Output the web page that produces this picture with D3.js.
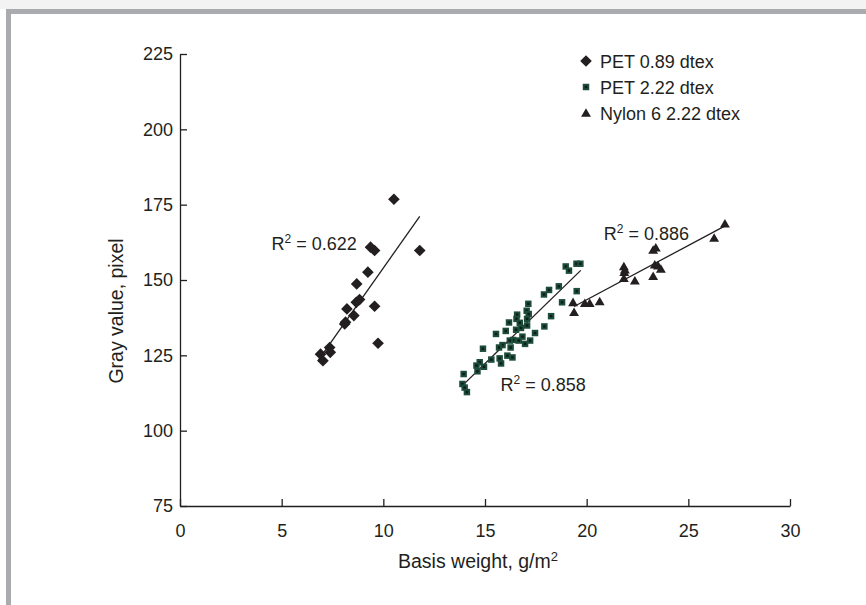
<!DOCTYPE html>
<html>
<head>
<meta charset="utf-8">
<script src="https://cdn.jsdelivr.net/npm/d3@7"></script>
<style>
    body { margin: 0; background: #fff; }
    svg { display: block; font-family: "Liberation Sans", Arial, sans-serif; }
    .axis path, .axis line { stroke: #231f20; stroke-width: 1.3; }
    .axis text { font-size: 18px; fill: #231f20; }
</style>
</head>
<body>
<div id="chart"></div>
<script>
// tick values
const xTicks = [0, 5, 10, 15, 20, 25, 30]
const yTicks = [75, 100, 125, 150, 175, 200, 225]

// PET 0.89 dtex
const pet089X = [10.52, 9.37, 9.57, 11.79, 9.24, 8.69, 9.57, 8.83, 8.67, 8.21, 8.55, 8.14, 8.10, 9.74, 7.36, 7.39, 6.91, 7.03]
const pet089Y = [176.8, 160.9, 159.8, 159.8, 152.6, 148.7, 141.3, 143.5, 142.6, 140.4, 138.2, 136.0, 135.4, 129.0, 127.6, 126.0, 125.4, 123.2]

// PET 2.22 dtex
const pet222X = [18.97, 19.13, 19.50, 19.69, 18.63, 18.15, 17.90, 19.51, 18.79, 17.13, 17.05, 16.58, 17.15, 16.55, 16.18, 16.71,
    17.07, 18.25, 17.07, 16.53, 16.02, 16.77, 17.92, 17.46, 15.54, 16.84, 16.66, 16.38, 16.22, 17.22, 16.97, 15.86,
    15.69, 16.26, 14.90, 15.72, 16.10, 16.35, 15.31, 15.79, 14.74, 14.95, 14.58, 14.63, 13.95, 13.89, 14.00, 14.11]
const pet222Y = [154.5, 153.1, 155.4, 155.4, 147.9, 146.7, 145.2, 146.3, 142.6, 142.1, 139.8, 138.5, 138.7, 137.1, 135.9, 135.8,
    137.1, 138.0, 134.9, 133.5, 133.1, 134.1, 134.6, 132.4, 132.1, 131.2, 129.9, 130.1, 129.9, 129.9, 128.8, 128.4,
    127.6, 127.6, 127.2, 124.0, 124.9, 124.3, 123.6, 122.3, 122.7, 121.2, 121.6, 119.7, 118.8, 115.5, 114.3, 112.8]

// Nylon 6 2.22 dtex
const nylonX = [19.33, 19.38, 19.91, 20.15, 20.64, 21.83, 21.88, 21.85, 21.83, 22.37, 23.27, 23.40, 23.35, 23.51, 23.65, 23.27, 26.27, 26.80]
const nylonY = [142.6, 139.3, 142.3, 142.3, 142.9, 154.5, 153.4, 152.6, 150.6, 149.8, 160.0, 160.7, 155.1, 154.8, 153.7, 151.3, 164.0, 168.7]

// trend line end points [x0, x1], [y0, y1]
const pet089FitX = [6.78, 11.79], pet089FitY = [123.2, 171.1]
const pet222FitX = [14.0, 19.71], pet222FitY = [115.7, 153.2]
const nylonFitX = [19.38, 26.9], nylonFitY = [141.2, 168.3]

const legendLabels = ['PET 0.89 dtex', 'PET 2.22 dtex', 'Nylon 6 2.22 dtex']
const r2Values = ['0.622', '0.858', '0.886']

const W = 866, H = 605
const svg = d3.select('#chart').append('svg')
    .attr('width', W)
    .attr('height', H)

// grey frame
svg.append('rect').attr('x', 0).attr('y', 0).attr('width', W).attr('height', 9).attr('fill', '#f3f3f3')
svg.append('rect').attr('x', 6).attr('y', 9).attr('width', W - 6).attr('height', 5).attr('fill', '#a9abae')
svg.append('rect').attr('x', 6).attr('y', 9).attr('width', 5).attr('height', H - 9).attr('fill', '#a9abae')

let margin = ({top: 54, right: 76, bottom: 99, left: 180})
const xScale = d3.scaleLinear().domain([0, 30]).range([margin.left, W - margin.right])
const yScale = d3.scaleLinear().domain([75, 225]).range([H - margin.bottom, margin.top])

const xAxis = d3.axisBottom(xScale).tickValues(xTicks).tickSizeInner(-7).tickSizeOuter(0).tickPadding(18)
const yAxis = d3.axisLeft(yScale).tickValues(yTicks).tickSizeInner(-7).tickSizeOuter(0).tickPadding(7)

svg.append('g')
    .attr('class', 'axis')
    .attr('transform', `translate(0,${yScale(75)})`)
    .call(xAxis)
svg.append('g')
    .attr('class', 'axis')
    .attr('transform', `translate(${xScale(0)},0)`)
    .call(yAxis)
svg.selectAll('.axis text').attr('font-family', null)

// axis titles
const xTitle = svg.append('text')
    .attr('x', 478)
    .attr('y', 568)
    .attr('text-anchor', 'middle')
    .attr('font-size', 19.5)
    .attr('fill', '#231f20')
xTitle.append('tspan').text('Basis weight, g/m')
xTitle.append('tspan').attr('font-size', 13).attr('dy', -7).text('2')

svg.append('text')
    .attr('transform', 'translate(123,311) rotate(-90)')
    .attr('text-anchor', 'middle')
    .attr('font-size', 19.5)
    .attr('fill', '#231f20')
    .text('Gray value, pixel')

// trend lines
const line = d3.line().x(d => xScale(d[0])).y(d => yScale(d[1]))
const fits = [[pet089FitX, pet089FitY], [pet222FitX, pet222FitY], [nylonFitX, nylonFitY]]
fits.forEach(f => {
    svg.append('path')
        .datum(d3.zip(f[0], f[1]))
        .attr('fill', 'none')
        .attr('stroke', '#231f20')
        .attr('stroke-width', 1.3)
        .attr('d', line)
})

// markers
const diamond = d3.symbol().type(d3.symbolSquare).size(68)
const square = d3.symbol().type(d3.symbolSquare).size(42)
const dot = d3.symbol().type(d3.symbolSquare).size(6)
const triangle = d3.symbol().type(d3.symbolTriangle).size(42)

function drawDiamond(g, x, y) {
    g.append('path').attr('d', diamond())
        .attr('transform', `translate(${x},${y}) rotate(45)`)
        .attr('fill', '#231f20')
}
function drawSquare(g, x, y) {
    g.append('path').attr('d', square())
        .attr('transform', `translate(${x},${y})`)
        .attr('fill', '#1d4c3b')
    g.append('path').attr('d', dot())
        .attr('transform', `translate(${x},${y})`)
        .attr('fill', '#0b1d15')
}
function drawTriangle(g, x, y) {
    g.append('path').attr('d', triangle())
        .attr('transform', `translate(${x},${y + 1})`)
        .attr('fill', '#231f20')
}

const marks = svg.append('g')
d3.zip(pet222X, pet222Y).forEach(d => drawSquare(marks, xScale(d[0]), yScale(d[1])))
d3.zip(nylonX, nylonY).forEach(d => drawTriangle(marks, xScale(d[0]), yScale(d[1])))
d3.zip(pet089X, pet089Y).forEach(d => drawDiamond(marks, xScale(d[0]), yScale(d[1])))

// R^2 labels, anchored in data units
const r2Pos = [[4.5, 159.8], [15.76, 113.2], [20.84, 163.4]]
r2Values.forEach((v, i) => {
    const t = svg.append('text')
        .attr('x', xScale(r2Pos[i][0]))
        .attr('y', yScale(r2Pos[i][1]))
        .attr('font-size', 18)
        .attr('fill', '#231f20')
    t.append('tspan').text('R')
    t.append('tspan').attr('font-size', 12).attr('dy', -7).text('2')
    t.append('tspan').attr('dy', 7).text(' = ' + v)
})

// legend
const legend = svg.append('g').attr('transform', 'translate(586,61)')
const drawers = [drawDiamond, drawSquare, drawTriangle]
legendLabels.forEach((label, i) => {
    const row = legend.append('g').attr('transform', `translate(0,${i * 26})`)
    drawers[i](row, 0, 0)
    row.append('text')
        .attr('x', 14)
        .attr('y', 6.5)
        .attr('font-size', 18)
        .attr('fill', '#231f20')
        .text(label)
})
</script>
</body>
</html>
